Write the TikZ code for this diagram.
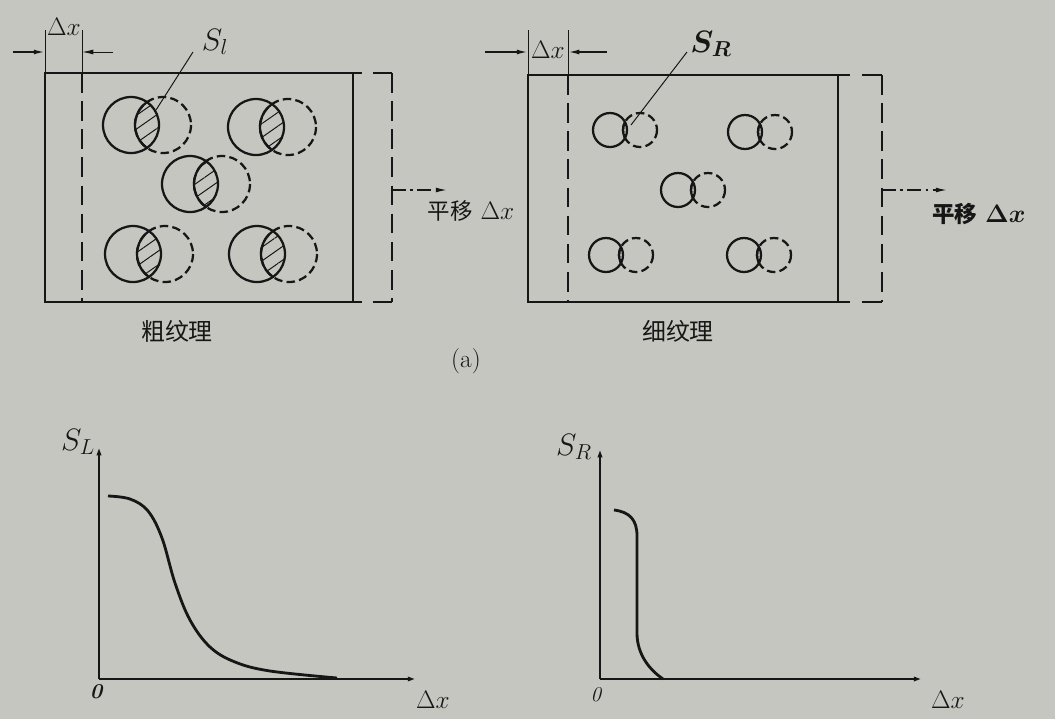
\RequirePackage{fix-cm}
\documentclass[tikz,border=0pt]{standalone}
\usepackage{amsmath}
\usepackage{fontspec}
\newfontfamily\cjk{Noto Sans CJK SC}
\usetikzlibrary{patterns.meta,arrows.meta}
\definecolor{paper}{RGB}{198,198,192}
\definecolor{ink}{RGB}{22,22,22}

\begin{document}
\begin{tikzpicture}[x=0.025cm,y=-0.025cm,>={Latex[length=8pt,width=3.5pt]},ink,
  edge/.style={line width=2pt},
  shifted/.style={line width=2pt,dash pattern=on 14pt off 6pt},
  ring/.style={line width=1.6pt},
  ghost/.style={line width=1.6pt,dash pattern=on 6pt off 3pt},
  hatch/.style={pattern={Lines[angle=35,distance=8pt,line width=0.7pt]},pattern color=ink},
  axis/.style={line width=1.6pt},
  big/.style={inner sep=0pt,font=\fontsize{22}{24}\selectfont},
  mid/.style={inner sep=0pt,font=\fontsize{18}{20}\selectfont},
  han/.style={inner sep=0pt,font=\cjk\fontsize{17}{20}\selectfont}]
 \fill[paper] (0,0) rectangle (1055,719);
 \useasboundingbox (0,0) rectangle (1055,719);

 % coarse texture
 \coordinate (ctl) at (45,73);
 \coordinate (cbr) at (353,302);
 \draw[edge] (ctl) rectangle (cbr);
 \draw[shifted] (82,73) -- (82,302);
 \draw[edge] (353,73) -- (362,73) (373,73) -- (392,73)
             (353,302) -- (362,302) (373,302) -- (392,302);
 \draw[shifted] (392,73) -- (392,302);
 \foreach \x/\y in {131/125,256/127,190/184,133/254,257/254}{
  \begin{scope}
   \clip (\x,\y) circle (28);
   \fill[hatch] (\x+32,\y) circle (28);
   \draw[ring] (\x+32,\y) circle (28);
  \end{scope}
  \draw[ring] (\x,\y) circle (28);
  \draw[ghost] (\x+32,\y) circle (28);
 }
 % shift width
 \coordinate (ca) at (45,30);
 \coordinate (cb) at (82,30);
 \coordinate (cc) at (82,73);
 \draw (ca) -- (ctl);
 \draw (cb) -- (cc);
 \coordinate (cl) at (13,52);
 \coordinate (cr) at (113,52);
 \draw[->,line width=1.2pt] (cl) -- (cl -| ca);
 \draw[->,line width=0.7pt] (cr) -- (cr -| cb);
 \node[mid] (cdx) at (64,27) {$\Delta x$};
 \node[big] (csl) at (215,42) {$S_l$};
 \coordinate (csa) at (193,52);
 \coordinate (csb) at (156,110);
 \draw[line width=0.7pt] (csa) -- (csb);
 \coordinate (cma) at (392,190);
 \coordinate (cmb) at (447,190);
 \draw[->,line width=0.9pt,dash pattern=on 10pt off 3pt on 2pt off 3pt] (cma) -- (cmb);
 \node[mid] (cmv) at (471,211) {{\cjk\fontsize{16}{18}\selectfont 平移} $\Delta x$};
 \node[han] (cname) at (177,331) {粗纹理};
 \node[inner sep=0pt,font=\fontsize{18}{20}\selectfont] (alab) at (466,361) {(a)};

 % fine texture
 \coordinate (ftl) at (528,75);
 \coordinate (fbr) at (838,302);
 \draw[edge] (ftl) rectangle (fbr);
 \draw[shifted] (568,75) -- (568,302);
 \draw[edge] (838,75) -- (850,75) (862,75) -- (882,75)
             (838,302) -- (850,302) (862,302) -- (882,302);
 \draw[shifted] (882,75) -- (882,302);
 \foreach \x/\y in {610/130,745/132,678/190,606/255,744/255}{
  \begin{scope}
   \clip (\x,\y) circle (17);
   \draw[ring] (\x+30,\y) circle (17);
  \end{scope}
  \draw[ring] (\x,\y) circle (17);
  \draw[ghost] (\x+30,\y) circle (17);
 }
 \coordinate (fea) at (528,30);
 \coordinate (feb) at (568,30);
 \coordinate (fec) at (568,75);
 \draw (fea) -- (ftl);
 \draw (feb) -- (fec);
 \coordinate (fl) at (485,52);
 \coordinate (fr) at (607,52);
 \draw[->,line width=1.2pt] (fl) -- (fl -| fea);
 \draw[->,line width=1.2pt] (fr) -- (fr -| feb);
 \node[mid] (fdx) at (548,50) {$\Delta x$};
 \node[big] (fsr) at (711,44) {$\boldsymbol{S_R}$};
 \coordinate (fsa) at (687,52);
 \coordinate (fsb) at (631,125);
 \draw[line width=0.7pt] (fsa) -- (fsb);
 \coordinate (fma) at (882,190);
 \coordinate (fmb) at (947,190);
 \draw[->,line width=0.9pt,dash pattern=on 10pt off 3pt on 2pt off 3pt] (fma) -- (fmb);
 \node[mid] (fmv) at (979,214) {{\cjk\bfseries\fontsize{16}{18}\selectfont 平移} $\boldsymbol{\Delta x}$};
 \node[han] (fname) at (678,331) {细纹理};

 % S_L curve
 \coordinate (lo) at (99,679);
 \coordinate (ly) at (99,444);
 \coordinate (lx) at (419,679);
 \draw[axis,->] (lo) -- (ly);
 \draw[axis,->] (lo) -- (lx);
 \node[big] (lsl) at (78,442) {$S_L$};
 \node[inner sep=0pt,font=\bfseries\itshape\fontsize{15}{17}\selectfont] (lzero) at (96,692) {0};
 \node[mid] (ldx) at (433,700) {$\Delta x$};
 \draw[line width=2pt] plot[smooth,tension=0.6] coordinates
  {(108,496) (130,499) (148,511) (162,538) (175,583) (190,620) (210,647) (235,662) (270,671) (337,678)};

 % S_R curve
 \coordinate (ro) at (600,679);
 \coordinate (ry) at (600,446);
 \coordinate (rx) at (925,679);
 \draw[axis,->] (ro) -- (ry);
 \draw[axis,->] (ro) -- (rx);
 \node[big] (rsr) at (574,447) {$S_R$};
 \node[inner sep=0pt,font=\itshape\fontsize{15}{17}\selectfont] (rzero) at (596,695) {0};
 \node[mid] (rdx) at (948,700) {$\Delta x$};
 \draw[line width=2pt] (614,510) .. controls (630,512) and (637,520) .. (637,536)
  -- (637,633) .. controls (637,655) and (650,670) .. (663,679);
\end{tikzpicture}
\end{document}
